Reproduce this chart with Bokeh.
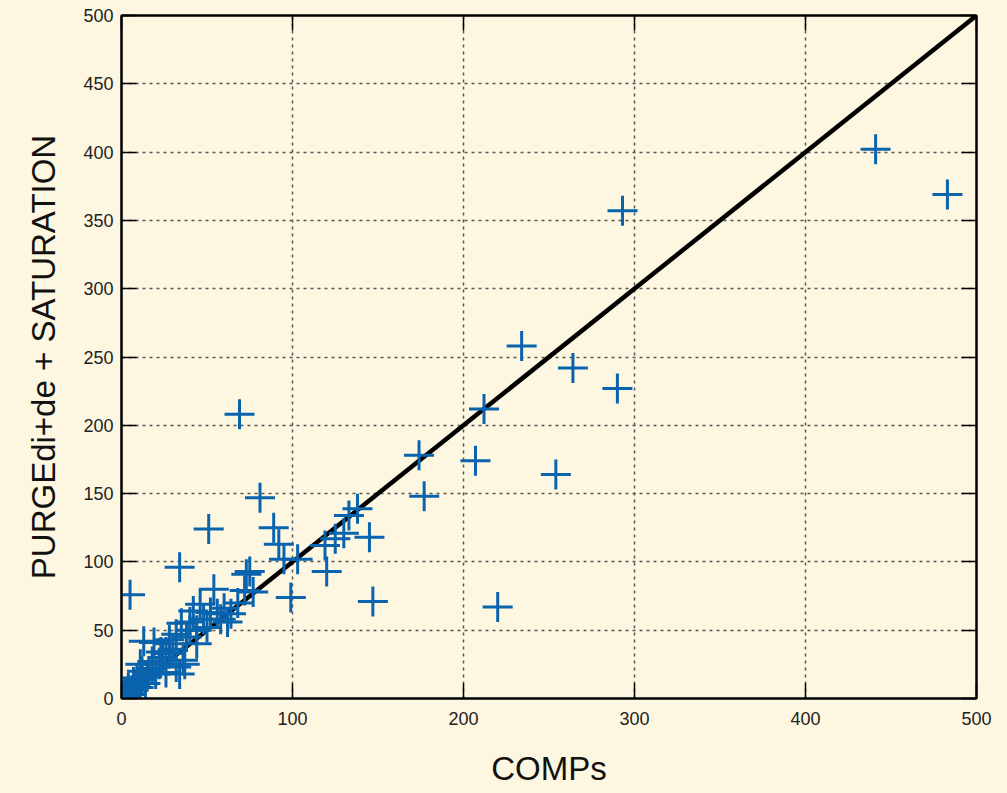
from bokeh.plotting import figure
from bokeh.models import Range1d, FixedTicker, LinearAxis, CustomJSTickFormatter
from bokeh.embed import file_html
from bokeh.resources import INLINE

# COMPs (x) vs PURGEdi+de + SATURATION (y)
comps = [441, 483, 293, 290, 234, 264, 212, 174, 207, 254, 177, 220, 147, 145,
         138, 133, 130, 125, 119, 120, 99, 103, 95, 92, 89, 81, 69, 51, 34, 5,
         75, 77, 72, 73, 54, 68, 64, 52, 46, 42, 40, 35, 44, 62, 28, 19, 13,
         11, 16, 23, 28, 32, 40, 44, 36, 32, 26, 28, 18, 26, 34, 37,
         0, 1, 2, 3, 5, 4, 6, 8, 10, 7, 12, 14, 2, 0, 1, 3, 9, 15, 18, 20, 22, 12,
         58, 48, 56, 24, 30, 38, 50, 60]
purge = [402, 369, 357, 227, 258, 242, 212, 178, 174, 164, 148, 67, 71, 118,
         139, 134, 121, 117, 112, 93, 74, 102, 102, 113, 125, 147, 208, 124, 96, 76,
         93, 78, 79, 91, 80, 70, 62, 63, 69, 64, 56, 55, 50, 56, 43, 41, 42,
         25, 20, 34, 40, 47, 50, 40, 28, 23, 19, 33, 27, 34, 18, 25,
         0, 2, 1, 5, 3, 8, 6, 10, 8, 12, 14, 11, 4, 2, 0, 1, 15, 16, 22, 18, 25, 20,
         58, 58, 62, 30, 36, 45, 52, 66]
diag = [0, 500]
x_ticks = [0, 100, 200, 300, 400, 500]
y_ticks = [0, 50, 100, 150, 200, 250, 300, 350, 400, 450, 500]

BG = "#FDF6E1"
FONT = "Liberation Sans"

p = figure(width=1000, height=793, output_backend="svg", toolbar_location=None,
           x_range=Range1d(0, 500), y_range=Range1d(0, 500),
           min_border_left=121, min_border_top=15, min_border_right=24, min_border_bottom=95)
p.background_fill_color = BG
p.border_fill_color = BG
p.outline_line_color = "black"
p.outline_line_width = 2

for ax in (p.xaxis[0], p.yaxis[0]):
    ax.axis_line_width = 2
    ax.axis_line_color = "black"
    ax.major_tick_in = 15
    ax.major_tick_out = 0
    ax.major_tick_line_width = 1.5
    ax.minor_tick_line_color = None
    ax.major_label_text_font = FONT
    ax.major_label_text_font_size = "18px"
    ax.major_label_text_color = "#222222"
    ax.axis_label_text_font = FONT
    ax.axis_label_text_font_size = "33px"
    ax.axis_label_text_font_style = "normal"
    ax.axis_label_text_color = "#111111"

p.xaxis[0].ticker = FixedTicker(ticks=x_ticks)
p.yaxis[0].ticker = FixedTicker(ticks=y_ticks)
p.xaxis[0].axis_label = "COMPs"
p.yaxis[0].axis_label = "PURGEdi+de + SATURATION"
p.xaxis[0].major_label_standoff = 13
p.yaxis[0].major_label_standoff = 8
p.xaxis[0].axis_label_standoff = 22
p.yaxis[0].axis_label_standoff = 18

for loc, tk in (("above", x_ticks), ("right", y_ticks)):
    a = LinearAxis(ticker=FixedTicker(ticks=tk),
                   formatter=CustomJSTickFormatter(code="return ''"))
    a.axis_line_width = 2
    a.major_tick_in = 15
    a.major_tick_out = 0
    a.major_tick_line_width = 1.5
    a.minor_tick_line_color = None
    a.major_label_standoff = 0
    p.add_layout(a, loc)

p.xgrid.ticker = FixedTicker(ticks=x_ticks)
p.ygrid.ticker = FixedTicker(ticks=y_ticks)
for g in (p.xgrid[0], p.ygrid[0]):
    g.grid_line_color = "#555555"
    g.grid_line_dash = "3 4"
    g.grid_line_width = 1.5

p.line(diag, diag, line_color="black", line_width=4.5)
p.scatter(comps, purge, marker="cross", size=30, line_color="#0a63ad", line_width=3)

html = file_html(p, INLINE)
html = html.replace("<body>", '<body style="background:%s">' % BG)
open("out.html", "w").write(html)
